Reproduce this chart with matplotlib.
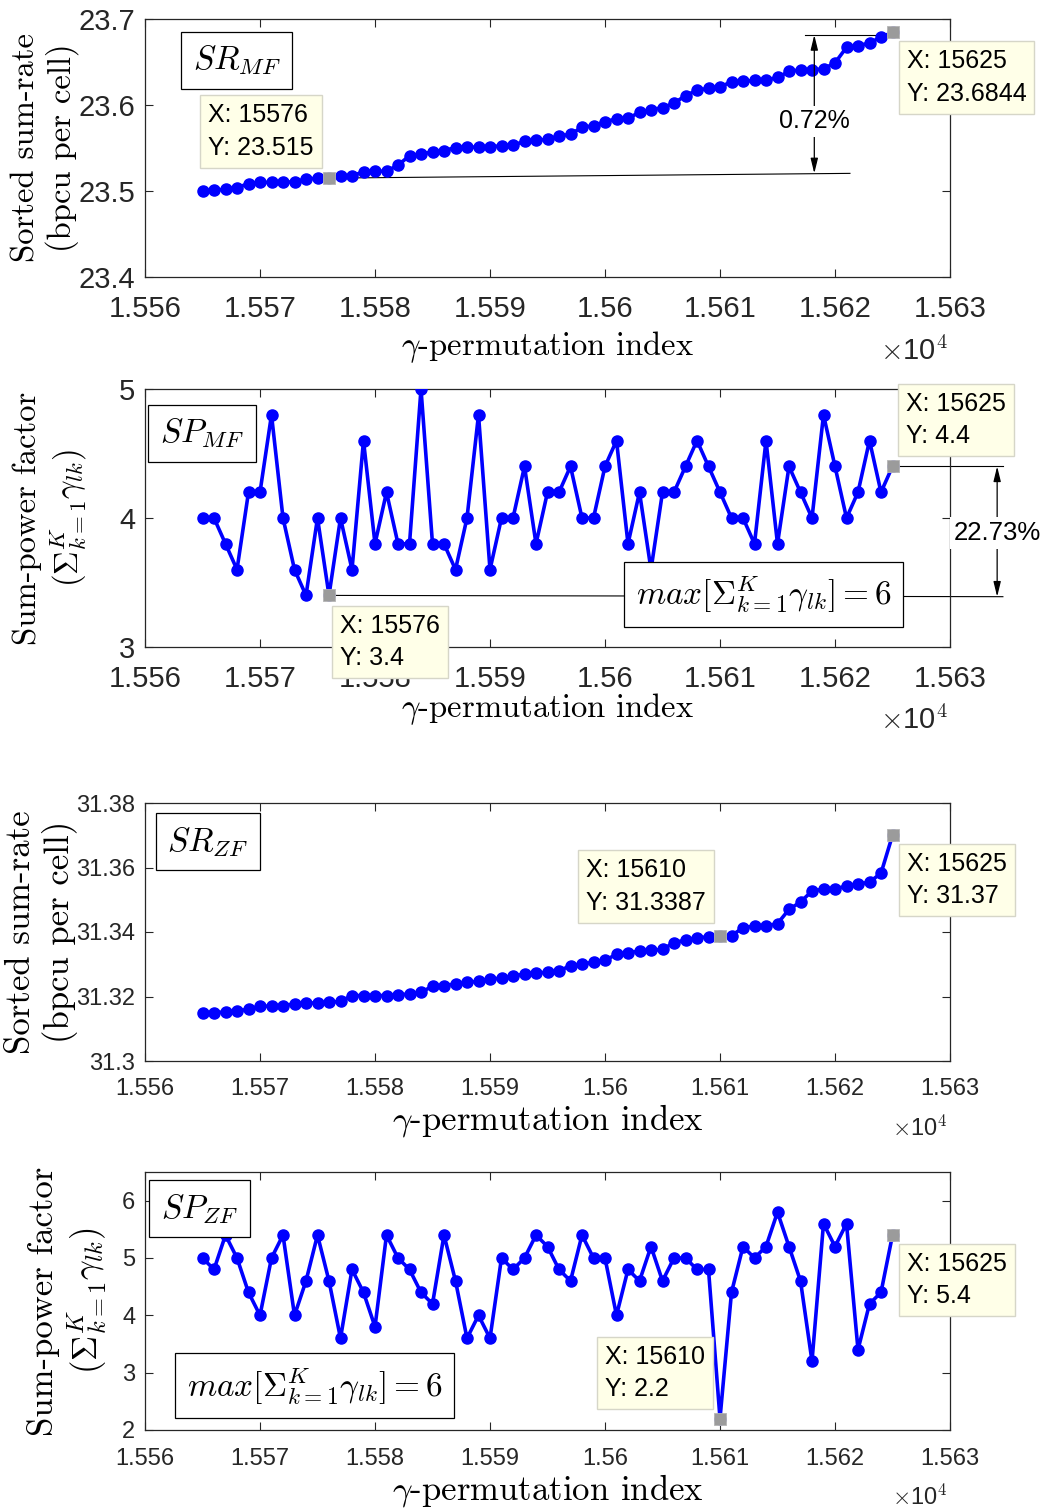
"""Sorted sum-rate and sum-power factor vs. gamma-permutation index (MF / ZF)."""
import matplotlib
matplotlib.use("Agg")
import matplotlib.pyplot as plt
import numpy as np

# ---- data ---------------------------------------------------------------
FIRST_INDEX = 15565

SR_MF = [23.500, 23.501, 23.502, 23.504, 23.5085, 23.510, 23.510, 23.5105, 23.5105, 23.514,
         23.5148, 23.515, 23.517, 23.518, 23.522, 23.523, 23.523, 23.530, 23.541, 23.543,
         23.5455, 23.547, 23.5505, 23.551, 23.551, 23.5515, 23.5525, 23.553, 23.558, 23.559,
         23.560, 23.564, 23.566, 23.574, 23.576, 23.5805, 23.584, 23.5845, 23.5915, 23.5945,
         23.597, 23.602, 23.611, 23.617, 23.6195, 23.621, 23.627, 23.6275, 23.6285, 23.629,
         23.632, 23.639, 23.641, 23.641, 23.642, 23.649, 23.667, 23.669, 23.672, 23.679,
         23.6844]

SP_MF = [4.0, 4.0, 3.8, 3.6, 4.2, 4.2, 4.8, 4.0, 3.6, 3.4,
         4.0, 3.4, 4.0, 3.6, 4.6, 3.8, 4.2, 3.8, 3.8, 5.0,
         3.8, 3.8, 3.6, 4.0, 4.8, 3.6, 4.0, 4.0, 4.4, 3.8,
         4.2, 4.2, 4.4, 4.0, 4.0, 4.4, 4.6, 3.8, 4.2, 3.6,
         4.2, 4.2, 4.4, 4.6, 4.4, 4.2, 4.0, 4.0, 3.8, 4.6,
         3.8, 4.4, 4.2, 4.0, 4.8, 4.4, 4.0, 4.2, 4.6, 4.2,
         4.4]

SR_ZF = [31.3149, 31.3150, 31.3152, 31.3156, 31.3160, 31.3170, 31.3170, 31.3172, 31.3177, 31.3180,
         31.3180, 31.3182, 31.3185, 31.3203, 31.3203, 31.3203, 31.3203, 31.3205, 31.3208, 31.3213,
         31.3232, 31.3234, 31.3239, 31.3244, 31.3247, 31.3254, 31.3257, 31.3263, 31.3270, 31.3273,
         31.3275, 31.3279, 31.3296, 31.3300, 31.3307, 31.3312, 31.3331, 31.3336, 31.3341, 31.3343,
         31.3346, 31.3367, 31.3375, 31.3382, 31.3385, 31.3387, 31.3389, 31.3413, 31.3419, 31.3419,
         31.3426, 31.3470, 31.3493, 31.3527, 31.3533, 31.3533, 31.3543, 31.3548, 31.3555, 31.3582,
         31.3700]

SP_ZF = [5.0, 4.8, 5.4, 5.0, 4.4, 4.0, 5.0, 5.4, 4.0, 4.6,
         5.4, 4.6, 3.6, 4.8, 4.4, 3.8, 5.4, 5.0, 4.8, 4.4,
         4.2, 5.4, 4.6, 3.6, 4.0, 3.6, 5.0, 4.8, 5.0, 5.4,
         5.2, 4.8, 4.6, 5.4, 5.0, 5.0, 4.0, 4.8, 4.6, 5.2,
         4.6, 5.0, 5.0, 4.8, 4.8, 2.2, 4.4, 5.2, 5.0, 5.2,
         5.8, 5.2, 4.6, 3.2, 5.6, 5.2, 5.6, 3.4, 4.2, 4.4,
         5.4]

XTICKS = [15560, 15570, 15580, 15590, 15600, 15610, 15620, 15630]
XTICK_LABELS = ["1.556", "1.557", "1.558", "1.559", "1.56", "1.561", "1.562", "1.563"]

SR_MF_TICKS = [23.4, 23.5, 23.6, 23.7]
SP_MF_TICKS = [3, 4, 5]
SR_ZF_TICKS = [31.30, 31.32, 31.34, 31.36, 31.38]
SR_ZF_TICK_LABELS = ["31.3", "31.32", "31.34", "31.36", "31.38"]
SP_ZF_TICKS = [2, 3, 4, 5, 6]

MF_TIPS = [15576, 15625]
ZF_TIPS = [15610, 15625]

# ---- style ----------------------------------------------------------------
plt.rcParams["font.family"] = ["Liberation Sans", "DejaVu Sans"]
plt.rcParams["mathtext.fontset"] = "cm"
plt.rcParams["axes.unicode_minus"] = False

BLUE = "#0000ff"
AXIS_COLOR = "#262626"
TIP_FACE = "#ffffe8"
TIP_EDGE = "#d6d6c8"
LABEL_FONT = "cmr10"

FIG_W, FIG_H = 1044, 1512
AX_LEFT, AX_WIDTH, AX_HEIGHT = 145, 805, 258


def make_axes(fig, top_px):
    return fig.add_axes([AX_LEFT / FIG_W, 1 - (top_px + AX_HEIGHT) / FIG_H,
                         AX_WIDTH / FIG_W, AX_HEIGHT / FIG_H])


def style_axes(ax, tick_size, label_size, xlabel_y, ylabel_x, offset_y, xpad):
    ax.set_xlim(15560, 15630)
    ax.set_xticks(XTICKS)
    ax.set_xticklabels(XTICK_LABELS)
    ax.tick_params(direction="in", top=True, right=True, length=5.5, width=0.8,
                   labelsize=tick_size, colors=AXIS_COLOR)
    ax.tick_params(axis="x", pad=xpad)
    ax.tick_params(axis="y", pad=7)
    for s in ax.spines.values():
        s.set_color(AXIS_COLOR)
        s.set_linewidth(0.9)
    ax.set_xlabel(r"$\gamma$-permutation index", fontfamily=LABEL_FONT, fontsize=label_size)
    ax.xaxis.label.set_va("center")
    ax.xaxis.set_label_coords(0.5, xlabel_y)
    ax.yaxis.label.set_va("center")
    ax.yaxis.set_label_coords(ylabel_x, 0.5)
    ax.text(0.9975, offset_y, r"$\times$10$^4$", transform=ax.transAxes, ha="right",
            va="center", fontsize=tick_size, color=AXIS_COLOR, clip_on=False)


def plot_series(ax, values):
    x = np.arange(FIRST_INDEX, FIRST_INDEX + len(values))
    ax.plot(x, values, "-o", color=BLUE, lw=2.6, ms=8, zorder=3)
    return x


def add_tip(ax, x_all, values, idx, tx, ty):
    y = values[list(x_all).index(idx)]
    ax.plot([idx], [y], marker="s", ms=8.5, color="#9b9b9b", mec="#b5b5b5", mew=0.6,
            zorder=5, clip_on=False)
    ax.text(tx, ty, f"X: {idx}\nY: {y:g}", transform=ax.transAxes, ha="center",
            va="center", multialignment="left", fontsize=18, linespacing=1.45,
            bbox=dict(boxstyle="square,pad=0.32", fc=TIP_FACE, ec=TIP_EDGE, lw=1),
            zorder=6, clip_on=False)
    return y


def add_box(ax, text, tx, ty, size=24):
    ax.text(tx, ty, text, transform=ax.transAxes, ha="center", va="center", fontsize=size,
            bbox=dict(boxstyle="square,pad=0.35", fc="white", ec="black", lw=0.9),
            zorder=6, clip_on=False)


def add_gap_arrow(ax, x, y_low, y_high, label, y_text, size):
    ax.annotate("", xy=(x, y_high), xytext=(x, y_low),
                arrowprops=dict(arrowstyle="<|-|>,head_length=0.9,head_width=0.22",
                                color="black", lw=0.9, shrinkA=0, shrinkB=0),
                annotation_clip=False, zorder=4)
    ax.text(x, y_text, label, ha="center", va="center", fontsize=size,
            bbox=dict(boxstyle="square,pad=0.15", fc="white", ec="none"),
            zorder=5, clip_on=False)


def main():
    fig = plt.figure(figsize=(FIG_W / 100, FIG_H / 100), dpi=100)

    # --- panel 1: sorted sum-rate, MF
    ax = make_axes(fig, 19)
    x = plot_series(ax, SR_MF)
    ax.set_ylim(23.4, 23.7)
    ax.set_yticks(SR_MF_TICKS)
    ax.set_yticklabels([f"{t:g}" for t in SR_MF_TICKS])
    ax.set_ylabel("Sorted sum-rate\n(bpcu per cell)", fontfamily=LABEL_FONT, fontsize=23.5)
    style_axes(ax, 21, 23.5, -0.271, -0.124, -0.29, 13)
    y_lo = add_tip(ax, x, SR_MF, MF_TIPS[0], 0.144, 0.564)
    y_hi = add_tip(ax, x, SR_MF, MF_TIPS[1], 1.0205, 0.773)
    ax.plot([MF_TIPS[0], 15621.3], [y_lo, y_lo + 0.0055], color="black", lw=0.8, zorder=2)
    ax.plot([15617.4, MF_TIPS[1]], [y_hi - 0.003, y_hi - 0.003], color="black", lw=0.8, zorder=2)
    add_gap_arrow(ax, 15618.2, y_lo + 0.0055, y_hi - 0.003, "0.72%", 23.581, 18)
    add_box(ax, r"$SR_{MF}$", 0.114, 0.841)

    # --- panel 2: sum-power factor, MF
    ax = make_axes(fig, 389)
    x = plot_series(ax, SP_MF)
    ax.set_ylim(3, 5)
    ax.set_yticks(SP_MF_TICKS)
    ax.set_ylabel("Sum-power factor\n" + r"($\Sigma_{k=1}^{K}\gamma_{lk}$)",
                  fontfamily=LABEL_FONT, fontsize=23.5)
    style_axes(ax, 21, 23.5, -0.240, -0.117, -0.283, 13)
    y_hi = add_tip(ax, x, SP_MF, MF_TIPS[1], 1.0075, 0.880)
    y_lo = add_tip(ax, x, SP_MF, MF_TIPS[0], 0.304, 0.0194)
    ax.plot([MF_TIPS[0], 15634.6], [y_lo, y_lo - 0.01], color="black", lw=0.8,
            zorder=2, clip_on=False)
    ax.plot([MF_TIPS[1], 15634.6], [y_hi, y_hi], color="black", lw=0.8,
            zorder=2, clip_on=False)
    add_gap_arrow(ax, 15634.1, y_lo - 0.01, y_hi, "22.73%", 3.884, 18.5)
    add_box(ax, r"$SP_{MF}$", 0.071, 0.829)
    add_box(ax, r"$max[\Sigma_{k=1}^{K}\gamma_{lk}] = 6$", 0.768, 0.205)

    # --- panel 3: sorted sum-rate, ZF
    ax = make_axes(fig, 803)
    x = plot_series(ax, SR_ZF)
    ax.set_ylim(31.30, 31.38)
    ax.set_yticks(SR_ZF_TICKS)
    ax.set_yticklabels(SR_ZF_TICK_LABELS)
    ax.set_ylabel("Sorted sum-rate\n(bpcu per cell)", fontfamily=LABEL_FONT, fontsize=25)
    style_axes(ax, 17, 25, -0.229, -0.128, -0.26, 12)
    add_tip(ax, x, SR_ZF, ZF_TIPS[0], 0.622, 0.676)
    add_tip(ax, x, SR_ZF, ZF_TIPS[1], 1.0087, 0.702)
    add_box(ax, r"$SR_{ZF}$", 0.078, 0.849)

    # --- panel 4: sum-power factor, ZF
    ax = make_axes(fig, 1172)
    x = plot_series(ax, SP_ZF)
    ax.set_ylim(2, 6.5)
    ax.set_yticks(SP_ZF_TICKS)
    ax.set_ylabel("Sum-power factor\n" + r"($\Sigma_{k=1}^{K}\gamma_{lk}$)",
                  fontfamily=LABEL_FONT, fontsize=25)
    style_axes(ax, 17, 25, -0.233, -0.095, -0.26, 13)
    add_tip(ax, x, SP_ZF, ZF_TIPS[0], 0.634, 0.221)
    add_tip(ax, x, SP_ZF, ZF_TIPS[1], 1.0087, 0.581)
    add_box(ax, r"$SP_{ZF}$", 0.068, 0.857)
    add_box(ax, r"$max[\Sigma_{k=1}^{K}\gamma_{lk}] = 6$", 0.211, 0.171)

    fig.savefig("out.png", dpi=100)
    plt.close(fig)


if __name__ == "__main__":
    main()
